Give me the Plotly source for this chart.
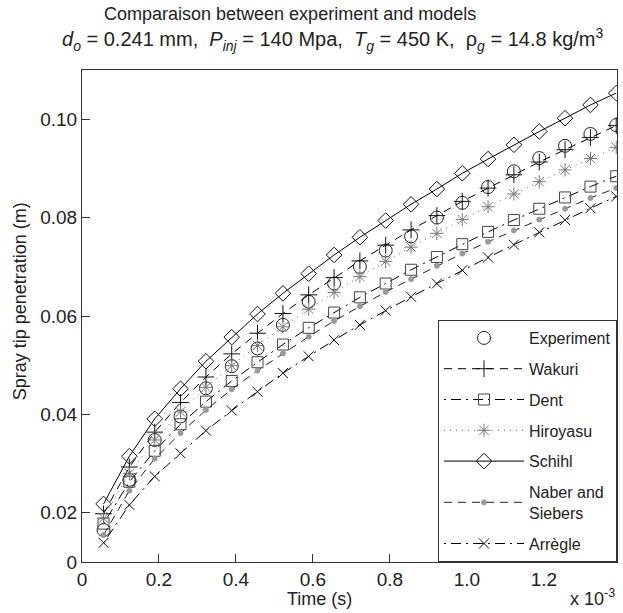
import plotly.graph_objects as go

# time in units of 1e-3 s
time_ms = [0.056, 0.123, 0.189, 0.256, 0.322, 0.389, 0.456, 0.522, 0.589, 0.655, 0.722,
           0.789, 0.855, 0.922, 0.988, 1.055, 1.122, 1.188, 1.255, 1.321, 1.388]

experiment = [0.0165, 0.0267, 0.0348, 0.0396, 0.0453, 0.0498, 0.0534, 0.0582, 0.0629, 0.0666, 0.0700,
              0.0733, 0.0762, 0.0800, 0.0830, 0.0862, 0.0894, 0.0921, 0.0946, 0.0970, 0.0988]
wakuri = [0.0198, 0.0293, 0.0364, 0.0424, 0.0476, 0.0523, 0.0565, 0.0605, 0.0643, 0.0678, 0.0712,
          0.0744, 0.0775, 0.0804, 0.0833, 0.0860, 0.0887, 0.0913, 0.0938, 0.0963, 0.0987]
dent = [0.0178, 0.0263, 0.0326, 0.0380, 0.0426, 0.0468, 0.0506, 0.0542, 0.0576, 0.0607, 0.0638,
        0.0666, 0.0694, 0.0720, 0.0746, 0.0771, 0.0795, 0.0818, 0.0841, 0.0863, 0.0884]
hiroyasu = [0.0189, 0.0280, 0.0348, 0.0405, 0.0455, 0.0499, 0.0540, 0.0578, 0.0614, 0.0648, 0.0680,
            0.0711, 0.0740, 0.0768, 0.0796, 0.0822, 0.0848, 0.0873, 0.0897, 0.0920, 0.0943]
schihl = [0.0218, 0.0315, 0.0391, 0.0452, 0.0508, 0.0557, 0.0604, 0.0646, 0.0686, 0.0724, 0.0760,
          0.0794, 0.0827, 0.0858, 0.0890, 0.0919, 0.0948, 0.0975, 0.1002, 0.1029, 0.1053]
naber = [0.0155, 0.0245, 0.0310, 0.0362, 0.0409, 0.0451, 0.0489, 0.0524, 0.0558, 0.0590, 0.0620,
         0.0649, 0.0675, 0.0702, 0.0727, 0.0751, 0.0774, 0.0796, 0.0818, 0.0840, 0.0860]
arregle = [0.0139, 0.0216, 0.0274, 0.0321, 0.0367, 0.0408, 0.0446, 0.0484, 0.0518, 0.0551, 0.0582,
           0.0611, 0.0639, 0.0666, 0.0693, 0.0719, 0.0745, 0.0770, 0.0795, 0.0819, 0.0843]

x_tickvals = [0, 0.2, 0.4, 0.6, 0.8, 1.0, 1.2]
x_ticktext = ["0", "0.2", "0.4", "0.6", "0.8", "1.0", "1.2"]
y_tickvals = [0.01, 0.02, 0.04, 0.06, 0.08, 0.10]
y_ticktext = ["0", "0.02", "0.04", "0.06", "0.08", "0.10"]

FONT = "Liberation Sans, Arial, sans-serif"

fig = go.Figure()

def add(name, y, mode, symbol, size, mcolor, dash=None, lcolor="black"):
    tr = dict(x=time_ms, y=y, name=name, mode=mode, legendgroup=name,
              marker=dict(symbol=symbol, size=size, color=mcolor,
                          line=dict(color=mcolor, width=1)))
    if "lines" in mode:
        tr["line"] = dict(color=lcolor, width=1, dash=dash)
    fig.add_trace(go.Scatter(**tr))

add("Experiment", experiment, "markers", "circle-open", 13, "#222222")
add("Wakuri", wakuri, "lines+markers", "cross-thin-open", 12, "#111111", dash="8px,6px")
add("Dent", dent, "lines+markers", "square-open", 11, "#444444", dash="2px,5px,10px,5px")
add("Hiroyasu", hiroyasu, "lines+markers", "asterisk-open", 11, "#777777", dash="1px,5px", lcolor="#666666")
add("Schihl", schihl, "lines+markers", "diamond-open", 12, "#111111", dash="solid")
add("Naber and<br>Siebers", naber, "lines+markers", "circle", 5, "#999999", dash="8px,6px", lcolor="#222222")
add("Arrègle", arregle, "lines+markers", "x-thin-open", 10, "#111111", dash="2px,5px,10px,5px")

title2 = ("<i>d</i><sub><i>o</i></sub> = 0.241 mm,&nbsp; <i>P</i><sub><i>inj</i></sub> = 140 Mpa,&nbsp; "
          "<i>T</i><sub><i>g</i></sub> = 450 K,&nbsp; ρ<sub><i>g</i></sub> = 14.8 kg/m<sup>3</sup>")

fig.update_layout(
    width=623, height=613,
    margin=dict(l=82, r=6, t=70, b=51),
    paper_bgcolor="white", plot_bgcolor="white",
    font=dict(family=FONT, size=18, color="#222222"),
    showlegend=True,
    legend=dict(x=1, y=0, xanchor="right", yanchor="bottom",
                bgcolor="white", bordercolor="#333333", borderwidth=1,
                font=dict(size=16, family=FONT, color="#222222"),
                itemwidth=80, tracegroupgap=7),
    xaxis=dict(range=[0, 1.39], tickvals=x_tickvals, ticktext=x_ticktext,
               ticks="inside", ticklen=8, tickcolor="#333333",
               showline=True, linecolor="#333333", linewidth=1, mirror=True,
               showgrid=False, zeroline=False,
               tickfont=dict(size=19, family=FONT)),
    yaxis=dict(range=[0.01, 0.11], tickvals=y_tickvals, ticktext=y_ticktext,
               ticks="inside", ticklen=8, tickcolor="#333333",
               showline=True, linecolor="#333333", linewidth=1, mirror=True,
               showgrid=False, zeroline=False,
               tickfont=dict(size=19, family=FONT)),
    annotations=[
        dict(text="Comparaison between experiment and models", xref="paper", yref="paper",
             x=0.389, y=1.0, yshift=56, xanchor="center", yanchor="middle", showarrow=False,
             font=dict(size=18, family=FONT)),
        dict(text=title2, xref="paper", yref="paper", x=0.469, y=1.0, yshift=31,
             xanchor="center", yanchor="middle", showarrow=False, font=dict(size=20, family=FONT)),
        dict(text="Spray tip penetration (m)", xref="paper", yref="paper", x=0, xshift=-62,
             y=0.53, textangle=-90, xanchor="center", yanchor="middle", showarrow=False,
             font=dict(size=18, family=FONT)),
        dict(text="Time (s)", xref="paper", yref="paper", x=0.443, y=0, yshift=-25,
             xanchor="center", yanchor="top", showarrow=False, font=dict(size=18, family=FONT)),
        dict(text="x 10<sup>-3</sup>", xref="paper", yref="paper", x=1.0, y=0, yshift=-22,
             xanchor="right", yanchor="top", showarrow=False, font=dict(size=18, family=FONT)),
    ],
)

fig.write_html("out.html")
